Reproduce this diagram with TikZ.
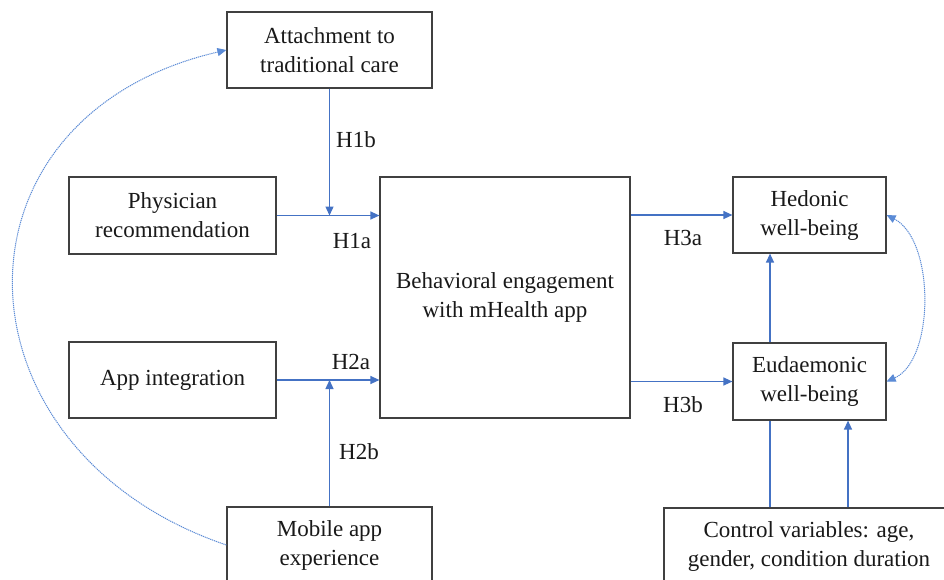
\documentclass[tikz,border=0pt]{standalone}
\usepackage{fontspec}
\setmainfont{Liberation Serif}
\usetikzlibrary{arrows.meta}
\definecolor{boxline}{HTML}{404040}
\definecolor{arrowblue}{HTML}{4472C4}
\definecolor{dotblue}{HTML}{5B8BD6}
\begin{document}
\begin{tikzpicture}[x=1pt,y=-1pt,
 box/.style={draw=boxline, line width=1.2pt, inner sep=0pt, align=center, text=black!90, font=\fontsize{23}{29}\selectfont},
 lbl/.style={inner sep=0pt, text=black!90, font=\fontsize{23}{29}\selectfont},
 link/.style={draw=arrowblue, line width=1.3pt},
 tip/.style={-{Triangle[length=9pt,width=8pt]}},
 dotline/.style={draw=dotblue, line width=1pt, dash pattern=on 1.2pt off 0.8pt}]
\clip (0,0) rectangle (944,579);
\fill[white] (0,0) rectangle (944,579);

\node[box, minimum width=205pt, minimum height=76pt] (att) at (329.5,50) {Attachment to\\traditional care};
\node[box, minimum width=207pt, minimum height=77pt] (phy) at (172.5,215.5) {Physician\\recommendation};
\node[box, minimum width=250pt, minimum height=241pt] (beh) at (505,297.5) {Behavioral engagement\\with mHealth app};
\node[box, minimum width=207pt, minimum height=76pt] (app) at (172.5,380) {App integration};
\node[box, minimum width=205pt, minimum height=76pt] (mob) at (329.5,545) {Mobile app\\experience};
\node[box, minimum width=153pt, minimum height=76pt] (hed) at (809.5,215) {Hedonic\\well-being};
\node[box, minimum width=153pt, minimum height=77pt] (eud) at (809.5,381.5) {Eudaemonic\\well-being};
\node[box, minimum width=290pt, minimum height=76pt] (ctl) at (809,546) {Control variables: age,\\gender, condition duration};

\draw[link, tip] (phy.east) -- (beh.west |- phy.east);
\draw[link, tip] (att.south) -- (att.south |- phy.east);
\draw[link, tip] (app.east) -- (beh.west |- app.east);
\draw[link, tip] (mob.north) -- (mob.north |- app.east);
\draw[link, tip] (beh.east |- hed.west) -- (hed.west);
\draw[link, tip] (beh.east |- eud.west) -- (eud.west);
\coordinate (vx1) at (770,0);
\coordinate (vx2) at (848,0);
\draw[link, tip] (eud.north -| vx1) -- (hed.south -| vx1);
\draw[link] (ctl.north -| vx1) -- (eud.south -| vx1);
\draw[link, tip] (ctl.north -| vx2) -- (eud.south -| vx2);
\draw[dotline, {Triangle[length=9pt,width=8pt]}-{Triangle[length=9pt,width=8pt]}] (hed.east) .. controls (935,240) and (935,360) .. (eud.east);
\draw[dotline, tip] (mob.west) .. controls (-53,450) and (-62,117) .. (att.west);

\node[lbl] (l1b) at (356,140) {H1b};
\node[lbl] (l1a) at (352,241) {H1a};
\node[lbl] (l2a) at (351,362) {H2a};
\node[lbl] (l2b) at (359,452) {H2b};
\node[lbl] (l3a) at (683,238) {H3a};
\node[lbl] (l3b) at (683,405) {H3b};
\end{tikzpicture}
\end{document}
